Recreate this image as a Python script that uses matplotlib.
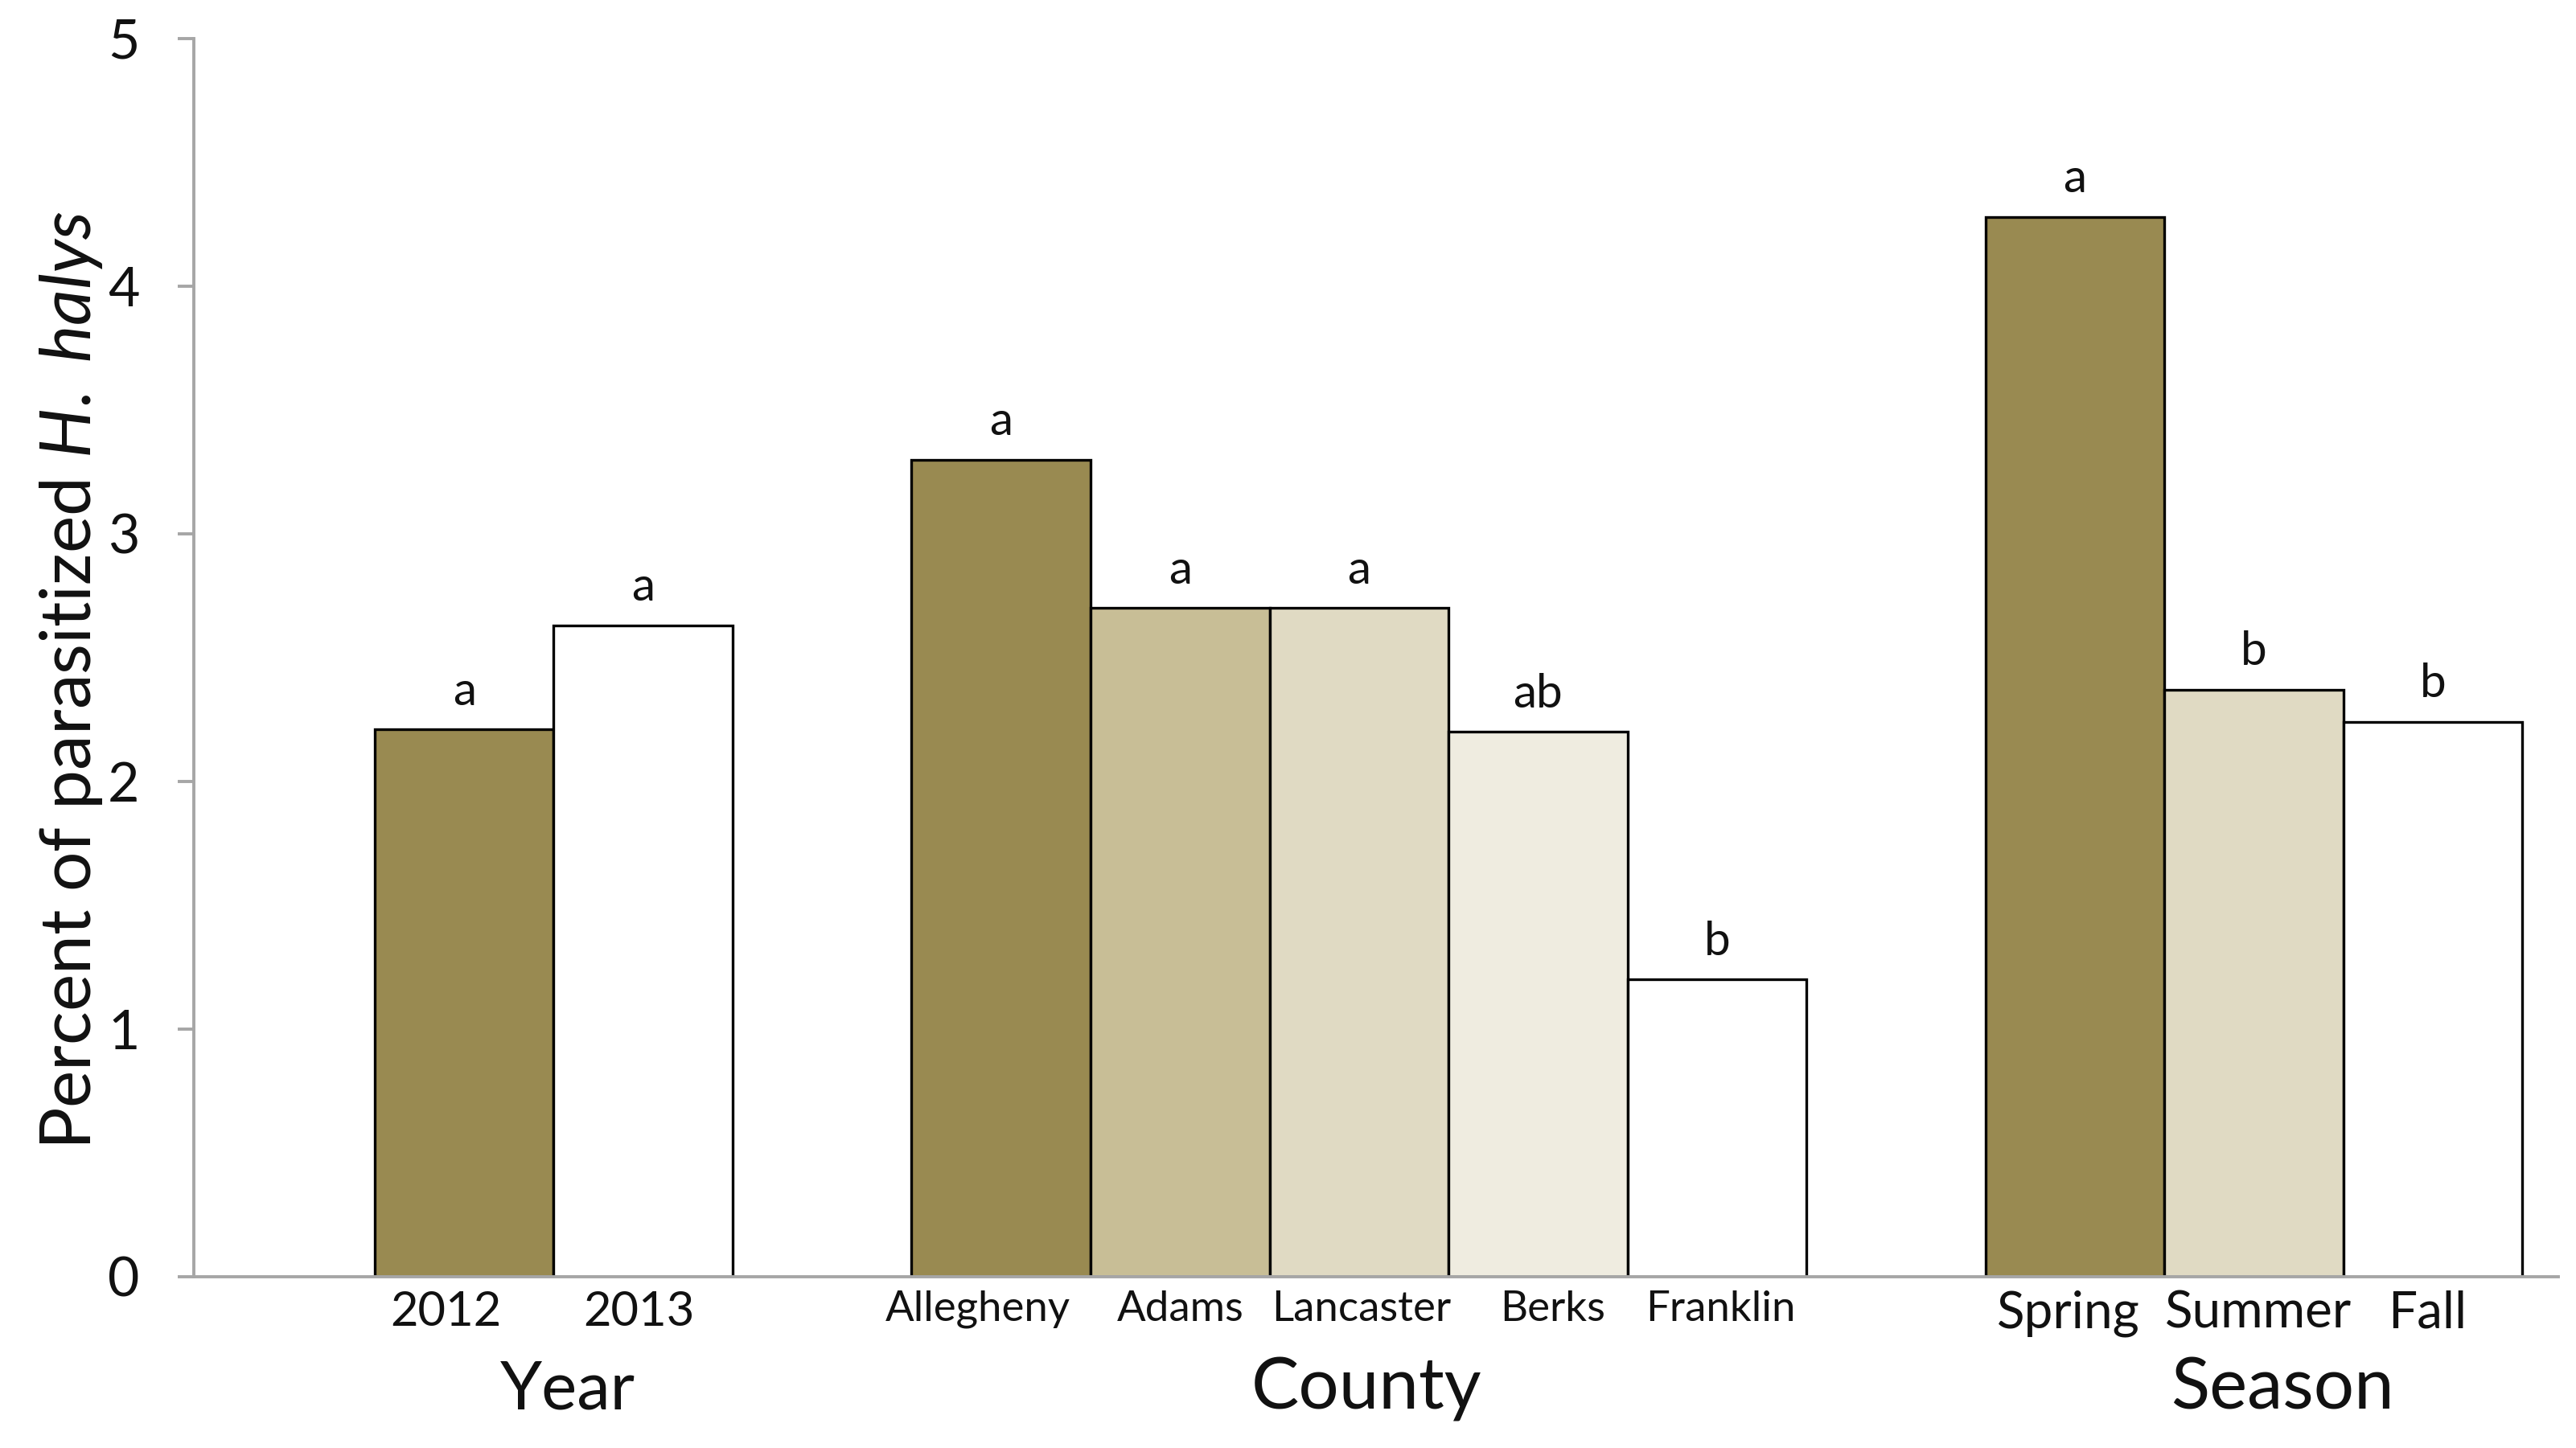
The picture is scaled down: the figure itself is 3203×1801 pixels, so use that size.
import matplotlib
matplotlib.use("Agg")
import matplotlib.pyplot as plt
import matplotlib.transforms as mtransforms

plt.rcParams['font.family'] = ['Lato', 'DejaVu Sans']
plt.rcParams['mathtext.fontset'] = 'custom'
plt.rcParams['mathtext.rm'] = 'Lato'
plt.rcParams['mathtext.it'] = 'Lato:italic'

# ---- data ----
year_labels = ['2012', '2013']
year_values = [2.21, 2.63]
year_letters = ['a', 'a']
year_colors = ['#998A51', '#FFFFFF']

county_labels = ['Allegheny', 'Adams', 'Lancaster', 'Berks', 'Franklin']
county_values = [3.30, 2.70, 2.70, 2.20, 1.20]
county_letters = ['a', 'a', 'a', 'ab', 'b']
county_colors = ['#998A51', '#C8BE96', '#E0DAC3', '#EFECE0', '#FFFFFF']

season_labels = ['Spring', 'Summer', 'Fall']
season_values = [4.28, 2.37, 2.24]
season_letters = ['a', 'b', 'b']
season_colors = ['#998A51', '#E0DAC3', '#FFFFFF']

group_names = ['Year', 'County', 'Season']
yticks = [0, 1, 2, 3, 4, 5]

# ---- layout (not data) ----
group_fs = [43, 38, 46]
group_title_fs = [60, 64, 64]
group_title_shift = [0.08, 0.04, 0.16]      # in bar widths
label_shift_px = [-23, -5, -29, 0, 3, 18, 4, -8, 5, -7]

groups = [
    (year_labels, year_values, year_letters, year_colors),
    (county_labels, county_values, county_letters, county_colors),
    (season_labels, season_values, season_letters, season_colors),
]

fig = plt.figure(figsize=(32.03, 18.01), dpi=100)
ax = fig.add_axes([0.0752, 0.1183, 0.9931 - 0.0752, 0.9734 - 0.1183])

axis_gray = '#A6A6A6'
start = 1.5
tick_pos, tick_lab, tick_size, centers = [], [], [], []
for (labels, values, letters, colors), fs in zip(groups, group_fs):
    pos = [start + i for i in range(len(values))]
    ax.bar(pos, values, width=1.0, color=colors, edgecolor='black',
           linewidth=2.4, zorder=1)
    for p, v, t in zip(pos, values, letters):
        ax.annotate(t, xy=(p, v), xytext=(0, 22), textcoords='offset points',
                    ha='center', va='baseline', fontsize=42, color='#111111')
    tick_pos += pos
    tick_lab += labels
    tick_size += [fs] * len(labels)
    centers.append(sum(pos) / len(pos))
    start = pos[-1] + 2

ax.set_xlim(-0.011, 13.20)
ax.set_ylim(0, 5)

ax.set_xticks(tick_pos)
ax.set_xticklabels(tick_lab)
ax.tick_params(axis='x', length=0, pad=12, labelcolor='#111111')
for lab, fs, dx in zip(ax.get_xticklabels(), tick_size, label_shift_px):
    lab.set_fontsize(fs)
    lab.set_transform(lab.get_transform() +
                      mtransforms.Affine2D().translate(dx, 0))

ax.set_yticks(yticks)
ax.set_yticklabels([str(t) for t in yticks])
ax.tick_params(axis='y', length=14.4, width=2.8, color=axis_gray,
               pad=34, labelsize=49, labelcolor='#111111', direction='out')

for s in ['top', 'right']:
    ax.spines[s].set_visible(False)
for s in ['left', 'bottom']:
    ax.spines[s].set_color(axis_gray)
    ax.spines[s].set_linewidth(2.8)

trans = mtransforms.blended_transform_factory(ax.transData, fig.transFigure)
for name, c, fs, sh in zip(group_names, centers, group_title_fs, group_title_shift):
    ax.text(c + sh, 0.0272, name, transform=trans, ha='center', va='baseline',
            fontsize=fs, color='#111111')

fig.text(0.0275, 0.530, r'Percent of parasitized $\mathit{H.\ halys}$',
         rotation=90, ha='center', va='center', fontsize=63, color='#111111')

fig.savefig('out.png', dpi=100, facecolor='white')
